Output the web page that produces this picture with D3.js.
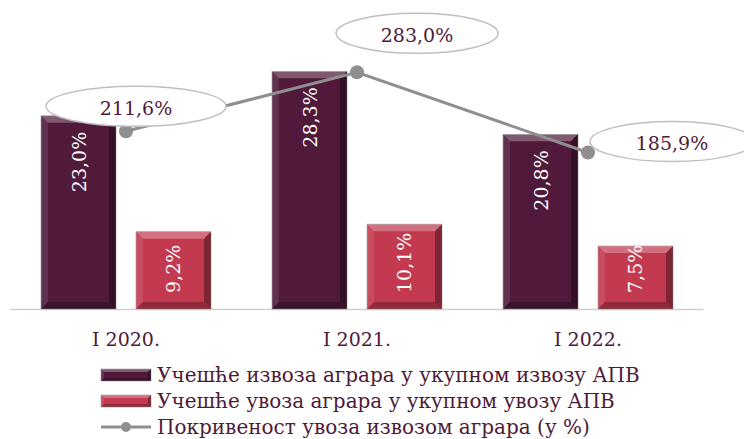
<!DOCTYPE html>
<html>
<head>
<meta charset="utf-8">
<script src="https://cdn.jsdelivr.net/npm/d3@7"></script>
<style>
  body { margin: 0; background: #fff; }
  svg { display: block; font-family: "DejaVu Serif", "Liberation Serif", serif; }
</style>
</head>
<body>
<div id="chart"></div>
<script>
// data
const categories = ["I 2020.", "I 2021.", "I 2022."];
const exportShare = [23.0, 28.3, 20.8];   // учешће извоза аграра
const importShare = [9.2, 10.1, 7.5];     // учешће увоза аграра
const coverage = [211.6, 283.0, 185.9];   // покривеност увоза извозом
const seriesNames = [
    "Учешће извоза аграра у укупном извозу АПВ",
    "Учешће увоза аграра у укупном увозу АПВ",
    "Покривеност увоза извозом аграра (у %)"
];

const width = 744, height = 439;
const darkColor = "#511a3b";
const redColor = "#c3394f";
const lineColor = "#8f8f8f";
const textColor = "#4f1a3a";

const fmt = v => v.toFixed(1).replace(".", ",") + "%";

const svg = d3.select("#chart").append("svg")
    .attr("width", width)
    .attr("height", height);

// scales
const x = d3.scaleBand().domain(categories).range([10.5, 703.5]);
const xSub = d3.scaleBand().domain([0, 1])
    .range([30.5, 200.5])
    .paddingInner(0.2105);
const y = d3.scaleLinear().domain([0, 30]).range([309, 57]);
const y2 = d3.scaleLinear().domain([0, 350]).range([306, 17]);

// baseline
svg.append("line")
    .attr("x1", x.range()[0]).attr("x2", x.range()[1])
    .attr("y1", y(0) + 0.5).attr("y2", y(0) + 0.5)
    .attr("stroke", "#d0d0d0")
    .attr("stroke-width", 1.5);

// bevelled box, like the office "soft edge" bars
function bevelBox(g, x0, y0, w, h, color, b) {
    g.append("rect")
        .attr("x", x0).attr("y", y0)
        .attr("width", w).attr("height", h)
        .attr("fill", color)
        .attr("stroke", "#9a9a9a").attr("stroke-width", 0.6);
    const x1 = x0 + w, y1 = y0 + h;
    const faces = [
        [[x0, y0], [x1, y0], [x1 - b, y0 + b], [x0 + b, y0 + b], "#fff", 0.28],
        [[x0, y0], [x0 + b, y0 + b], [x0 + b, y1 - b], [x0, y1], "#fff", 0.1],
        [[x1, y0], [x1, y1], [x1 - b, y1 - b], [x1 - b, y0 + b], "#000", 0.35],
        [[x0, y1], [x0 + b, y1 - b], [x1 - b, y1 - b], [x1, y1], "#000", 0.25]
    ];
    faces.forEach(f => {
        g.append("polygon")
            .attr("points", f.slice(0, 4).map(p => p.join(",")).join(" "))
            .attr("fill", f[4])
            .attr("fill-opacity", f[5]);
    });
}

// bars
const bars = svg.append("g");
[exportShare, importShare].forEach((series, si) => {
    series.forEach((v, i) => {
        const bx = x(categories[i]) + xSub(si);
        bevelBox(bars, bx, y(v), xSub.bandwidth(), y(0) - y(v), si === 0 ? darkColor : redColor, 7);
    });
});

// value labels inside bars, rotated
[exportShare, importShare].forEach((series, si) => {
    series.forEach((v, i) => {
        const cx = x(categories[i]) + xSub(si) + xSub.bandwidth() / 2;
        const t = svg.append("text")
            .attr("fill", "#fff")
            .attr("font-size", 19)
            .attr("text-anchor", "end")
            .attr("dominant-baseline", "central")
            .text(fmt(v));
        const len = t.node().getComputedTextLength();
        const topY = Math.min(y(v) + 16, y(0) - 16 - len);
        t.attr("transform", `translate(${cx},${topY}) rotate(-90)`);
    });
});

// coverage line
const pts = coverage.map((v, i) => [x(categories[i]) + x.bandwidth() / 2, y2(v)]);
svg.append("path")
    .attr("d", d3.line()(pts))
    .attr("fill", "none")
    .attr("stroke", lineColor)
    .attr("stroke-width", 3);

svg.selectAll(".dot")
    .data(pts)
    .join("circle")
    .attr("cx", d => d[0]).attr("cy", d => d[1])
    .attr("r", 7)
    .attr("fill", lineColor);

// callout ellipses for the line values: [dx, dy, rx] from the point
const callouts = [[10, -25, 90], [60, -39, 81], [84, -11, 82]];
coverage.forEach((v, i) => {
    const cx = pts[i][0] + callouts[i][0];
    const cy = pts[i][1] + callouts[i][1];
    svg.append("ellipse")
        .attr("cx", cx).attr("cy", cy)
        .attr("rx", callouts[i][2]).attr("ry", 20)
        .attr("fill", "#fff")
        .attr("stroke", "#bfbfbf")
        .attr("stroke-width", 1.5);
    svg.append("text")
        .attr("x", cx).attr("y", cy + 2)
        .attr("text-anchor", "middle")
        .attr("dominant-baseline", "central")
        .attr("font-size", 19)
        .attr("fill", textColor)
        .text(fmt(v));
});

// category axis labels
svg.selectAll(".cat")
    .data(categories)
    .join("text")
    .attr("x", d => x(d) + x.bandwidth() / 2)
    .attr("y", 339)
    .attr("text-anchor", "middle")
    .attr("dominant-baseline", "central")
    .attr("font-size", 19)
    .attr("fill", textColor)
    .text(d => d);

// legend
const legend = svg.append("g").attr("transform", "translate(101, 0)");
const legendY = [375, 401, 427];
seriesNames.forEach((name, i) => {
    const ly = legendY[i];
    if (i < 2) {
        bevelBox(legend, 0, ly - 6, 50, 12, i === 0 ? darkColor : redColor, 3);
    } else {
        legend.append("line")
            .attr("x1", 0).attr("x2", 50)
            .attr("y1", ly).attr("y2", ly)
            .attr("stroke", lineColor).attr("stroke-width", 3);
        legend.append("circle")
            .attr("cx", 25).attr("cy", ly).attr("r", 5)
            .attr("fill", lineColor);
    }
    legend.append("text")
        .attr("x", 56).attr("y", ly)
        .attr("dominant-baseline", "central")
        .attr("font-size", 20)
        .attr("fill", textColor)
        .text(name);
});
</script>
</body>
</html>
